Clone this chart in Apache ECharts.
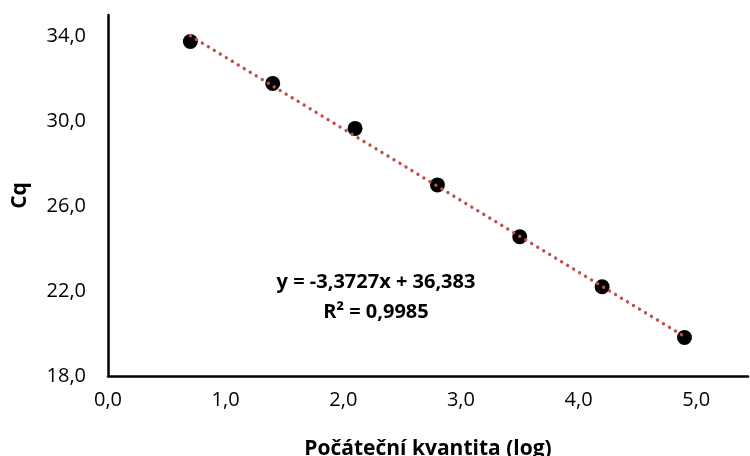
<!DOCTYPE html>
<html>
<head>
<meta charset="utf-8">
<script src="https://cdn.jsdelivr.net/npm/echarts@6/dist/echarts.min.js"></script>
<style>
  html, body { margin: 0; padding: 0; background: #fff; }
  #chart { width: 750px; height: 456px; }
</style>
</head>
<body>
<div id="chart"></div>
<script>
// log starting quantity vs Cq
var logQty = [0.7, 1.4, 2.1, 2.8, 3.5, 4.2, 4.9];
var cqValues = [33.75, 31.78, 29.66, 27.0, 24.56, 22.2, 19.81];
// Excel trendline endpoints
var trendX = [0.7, 4.9];
var trendY = [34.02, 19.86];
var equationLines = ['y = -3,3727x + 36,383', 'R² = 0,9985'];

var fontFam = '"Open Sans", "Noto Sans", sans-serif';

function fmt(min, step) {
  return function (v) {
    var k = (v - min) / step;
    if (Math.abs(k - Math.round(k)) > 1e-6) return '';
    return v.toFixed(1).replace('.', ',');
  };
}

var chart = echarts.init(document.getElementById('chart'));

var option = {
  animation: false,
  grid: { left: 108, right: 2, top: 15, bottom: 80, outerBoundsMode: 'none', containLabel: false },
  xAxis: {
    type: 'value',
    min: 0,
    max: 5.44,
    interval: 1,
    name: 'Počáteční kvantita (log)',
    nameLocation: 'middle',
    nameGap: 63,
    nameTextStyle: { fontFamily: fontFam, fontWeight: 'bold', fontSize: 21, color: '#000' },
    axisLine: { lineStyle: { color: '#000', width: 2.5 } },
    axisTick: { show: false },
    splitLine: { show: false },
    axisLabel: {
      formatter: fmt(0, 1),
      margin: 14,
      fontFamily: fontFam, fontSize: 20, color: '#000'
    }
  },
  yAxis: {
    type: 'value',
    min: 18,
    max: 35,
    interval: 4,
    name: 'Cq',
    nameLocation: 'middle',
    nameGap: 77,
    nameRotate: 90,
    nameTextStyle: { fontFamily: fontFam, fontWeight: 'bold', fontSize: 21, color: '#000' },
    axisLine: { show: true, lineStyle: { color: '#000', width: 2.5 } },
    axisTick: { show: false },
    splitLine: { show: false },
    axisLabel: {
      formatter: fmt(18, 4),
      margin: 22,
      fontFamily: fontFam, fontSize: 20, color: '#000'
    }
  },
  series: [
    {
      type: 'scatter',
      symbol: 'circle',
      symbolSize: 15,
      itemStyle: { color: '#000', opacity: 1 },
      data: logQty.map(function (x, i) { return [x, cqValues[i]]; })
    },
    {
      type: 'line',
      symbol: 'none',
      silent: true,
      lineStyle: { color: '#c0504d', width: 3.4, type: [0.01, 7], cap: 'round' },
      data: trendX.map(function (x, i) { return [x, trendY[i]]; })
    }
  ],
  graphic: [
    {
      type: 'text',
      x: 376,
      y: 267,
      style: {
        text: equationLines.join('\n'),
        fontFamily: fontFam, fontWeight: 'bold', fontSize: 20,
        lineHeight: 30, fill: '#000', align: 'center'
      }
    }
  ]
};
chart.setOption(option);
</script>
</body>
</html>
